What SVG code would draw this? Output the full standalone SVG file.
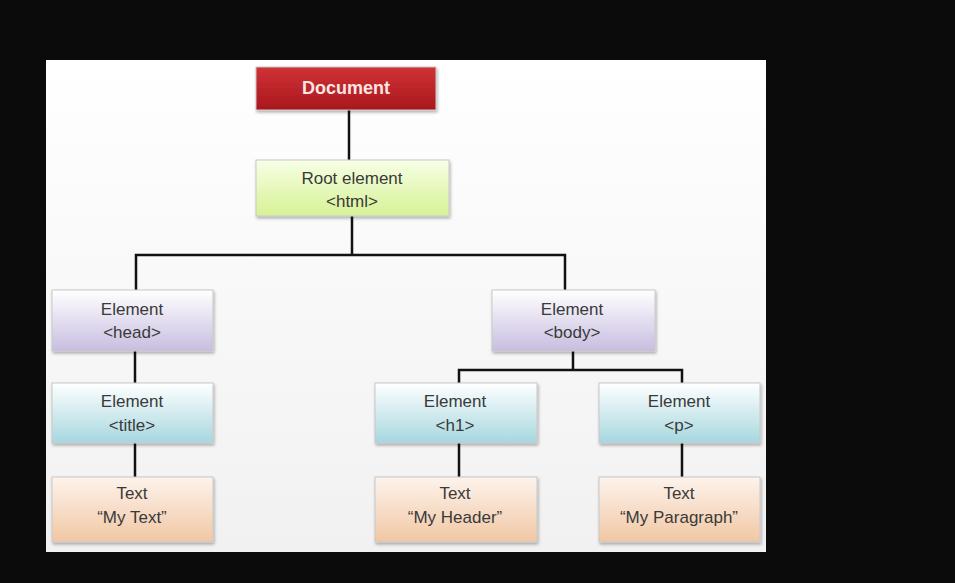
<svg xmlns="http://www.w3.org/2000/svg" width="955" height="583" viewBox="0 0 955 583">
<style>
.lbl{font-family:"Liberation Sans",Arial,sans-serif;font-size:17px;fill:#3a3a3a;text-anchor:middle}
.doc{font-family:"Liberation Sans",Arial,sans-serif;font-size:18px;font-weight:bold;fill:#fbe6e4;text-anchor:middle}
.box{stroke:#c8c8c8;stroke-width:1;filter:url(#sh)}
.con{stroke:#111;stroke-width:2.5;fill:none}
</style>
<defs>
<filter id="sh" x="-10%" y="-10%" width="130%" height="140%"><feDropShadow dx="1" dy="2" stdDeviation="1.5" flood-color="#000" flood-opacity="0.3"/></filter>
<linearGradient id="gRed" x1="0" y1="0" x2="0" y2="1"><stop offset="0" stop-color="#d03236"/><stop offset="1" stop-color="#a8171d"/></linearGradient>
<linearGradient id="gGreen" x1="0" y1="0" x2="0" y2="1"><stop offset="0" stop-color="#f7ffe6"/><stop offset="1" stop-color="#d6f295"/></linearGradient>
<linearGradient id="gPurple" x1="0" y1="0" x2="0" y2="1"><stop offset="0" stop-color="#ffffff"/><stop offset="1" stop-color="#c8bde0"/></linearGradient>
<linearGradient id="gCyan" x1="0" y1="0" x2="0" y2="1"><stop offset="0" stop-color="#ffffff"/><stop offset="1" stop-color="#a6d7df"/></linearGradient>
<linearGradient id="gPeach" x1="0" y1="0" x2="0" y2="1"><stop offset="0" stop-color="#fdf3ec"/><stop offset="1" stop-color="#f1c7a4"/></linearGradient>
<linearGradient id="gSlide" x1="0" y1="0" x2="0" y2="1"><stop offset="0" stop-color="#ffffff"/><stop offset="1" stop-color="#f1f1f1"/></linearGradient>
</defs>
<rect x="0" y="0" width="955" height="583" fill="#0b0b0b"/>
<rect x="46" y="60" width="720" height="492" fill="url(#gSlide)"/>
<g id="connectors">
<line class="con" x1="349" y1="110" x2="349" y2="160"/>
<path class="con" d="M352 216 V255 M136 290 V255 H565 V290"/>
<line class="con" x1="135" y1="351" x2="135" y2="383"/>
<line class="con" x1="135" y1="443" x2="135" y2="477"/>
<path class="con" d="M573 351 V370 M459 383 V370 H682 V383"/>
<line class="con" x1="459" y1="443" x2="459" y2="477"/>
<line class="con" x1="682" y1="443" x2="682" y2="477"/>
</g>
<g id="document"><rect class="box" x="256" y="67" width="180" height="43" fill="url(#gRed)"/><text class="doc" x="346" y="94">Document</text></g>
<g id="root"><rect class="box" x="256" y="160" width="193" height="56" fill="url(#gGreen)"/><text class="lbl" x="352" y="184">Root element</text><text class="lbl" x="352" y="207">&lt;html&gt;</text></g>
<g id="head"><rect class="box" x="52" y="290" width="161" height="61" fill="url(#gPurple)"/><text class="lbl" x="132" y="315">Element</text><text class="lbl" x="132" y="338">&lt;head&gt;</text></g>
<g id="body"><rect class="box" x="492" y="290" width="163" height="61" fill="url(#gPurple)"/><text class="lbl" x="572" y="315">Element</text><text class="lbl" x="572" y="338">&lt;body&gt;</text></g>
<g id="title"><rect class="box" x="52" y="383" width="161" height="60" fill="url(#gCyan)"/><text class="lbl" x="132" y="407">Element</text><text class="lbl" x="132" y="431">&lt;title&gt;</text></g>
<g id="h1"><rect class="box" x="375" y="383" width="162" height="60" fill="url(#gCyan)"/><text class="lbl" x="455" y="407">Element</text><text class="lbl" x="455" y="431">&lt;h1&gt;</text></g>
<g id="p"><rect class="box" x="599" y="383" width="161" height="60" fill="url(#gCyan)"/><text class="lbl" x="679" y="407">Element</text><text class="lbl" x="679" y="431">&lt;p&gt;</text></g>
<g id="text1"><rect class="box" x="52" y="477" width="161" height="65" fill="url(#gPeach)"/><text class="lbl" x="132" y="499">Text</text><text class="lbl" x="132" y="523">“My Text”</text></g>
<g id="text2"><rect class="box" x="375" y="477" width="162" height="65" fill="url(#gPeach)"/><text class="lbl" x="455" y="499">Text</text><text class="lbl" x="455" y="523">“My Header”</text></g>
<g id="text3"><rect class="box" x="599" y="477" width="161" height="65" fill="url(#gPeach)"/><text class="lbl" x="679" y="499">Text</text><text class="lbl" x="679" y="523">“My Paragraph”</text></g>
</svg>
